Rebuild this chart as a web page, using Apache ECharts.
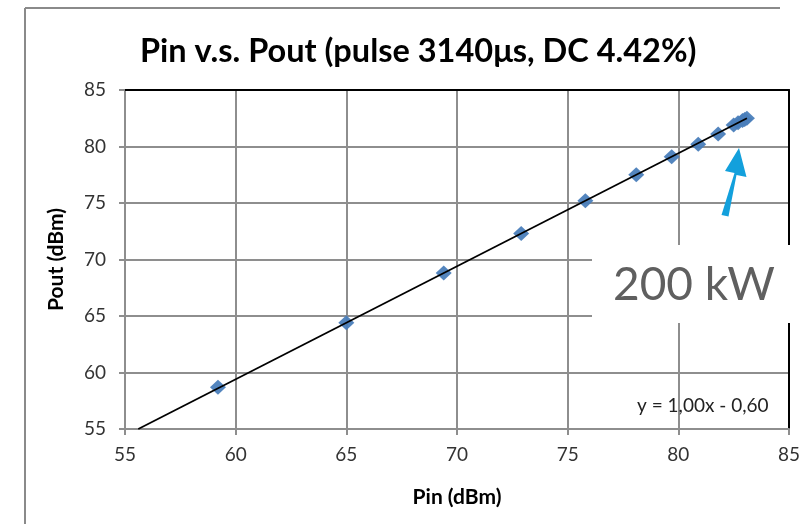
<!DOCTYPE html>
<html>
<head>
<meta charset="utf-8">
<script src="https://cdn.jsdelivr.net/npm/echarts@6/dist/echarts.min.js"></script>
<style>html,body{margin:0;padding:0;background:#fff}#c{width:803px;height:524px}</style>
</head>
<body>
<div id="c"></div>
<script>
// Data
const titleText = 'Pin v.s. Pout (pulse 3140μs, DC 4.42%)';
const xAxisName = 'Pin (dBm)';
const yAxisName = 'Pout (dBm)';
const pinValues  = [59.2, 65.0, 69.4, 72.9, 75.8, 78.1, 79.7, 80.9, 81.8, 82.5, 82.7, 82.9, 83.0, 83.1];
const poutValues = [58.7, 64.4, 68.8, 72.3, 75.2, 77.5, 79.1, 80.2, 81.1, 81.9, 82.1, 82.3, 82.4, 82.5];
const trendPin  = [55.6, 83.1];
const trendPout = [55.0, 82.5];
const equationText = 'y = 1,00x - 0,60';
const annotationText = '200 kW';
const axisMin = 55, axisMax = 85, axisStep = 5;

const FONT = 'Lato';
const chart = echarts.init(document.getElementById('c'), null, {renderer: 'canvas'});

const scatterData = pinValues.map((x, i) => [x, poutValues[i]]);
const trendData = trendPin.map((x, i) => [x, trendPout[i]]);

const gridColor = '#8e8e8e';
chart.setOption({
  animation: false,
  backgroundColor: '#fff',
  title: {
    text: titleText,
    left: 135, top: 30,
    textStyle: {fontFamily: FONT, fontWeight: 'bold', fontSize: 32.5, color: '#000'}
  },
  grid: {left: 125, top: 90, width: 666, height: 339, containLabel: false},
  xAxis: [{
    type: 'value', min: axisMin, max: axisMax, interval: axisStep,
    name: xAxisName, nameLocation: 'middle', nameGap: 58,
    nameTextStyle: {fontFamily: FONT, fontWeight: 'bold', fontSize: 21, color: '#000'},
    axisLine: {show: true, onZero: false, lineStyle: {color: gridColor, width: 2}},
    axisTick: {show: true, inside: false, length: 6, lineStyle: {color: gridColor, width: 2}},
    axisLabel: {fontFamily: FONT, fontSize: 19, color: '#333', margin: 16},
    splitLine: {show: true, lineStyle: {color: gridColor, width: 2}}
  }, {
    type: 'value', position: 'top', min: axisMin, max: axisMax, interval: axisStep,
    axisLine: {show: true, onZero: false, lineStyle: {color: '#000', width: 2}},
    axisTick: {show: false}, axisLabel: {show: false}, splitLine: {show: false}
  }],
  yAxis: [{
    type: 'value', min: axisMin, max: axisMax, interval: axisStep,
    name: yAxisName, nameLocation: 'middle', nameGap: 58, nameRotate: 90,
    nameTextStyle: {fontFamily: FONT, fontWeight: 'bold', fontSize: 21, color: '#000'},
    axisLine: {show: true, onZero: false, lineStyle: {color: gridColor, width: 2}},
    axisTick: {show: true, inside: false, length: 6, lineStyle: {color: gridColor, width: 2}},
    axisLabel: {fontFamily: FONT, fontSize: 19, color: '#333', margin: 19},
    splitLine: {show: true, lineStyle: {color: gridColor, width: 2}}
  }, {
    type: 'value', position: 'right', min: axisMin, max: axisMax, interval: axisStep,
    axisLine: {show: true, onZero: false, lineStyle: {color: '#000', width: 2}},
    axisTick: {show: false}, axisLabel: {show: false}, splitLine: {show: false}
  }],
  series: [{
    type: 'scatter', name: 'Pout',
    data: scatterData,
    symbol: 'diamond', symbolSize: [16, 15],
    itemStyle: {color: '#4a7ebb', opacity: 0.95},
    z: 3
  }, {
    type: 'line', name: 'trend',
    data: trendData,
    showSymbol: false, symbol: 'none', clip: true,
    lineStyle: {color: '#000', width: 1.8},
    z: 4
  }],
  graphic: [
    // outer frame (left and top edges)
    {type: 'line', shape: {x1: 25, y1: 8, x2: 25, y2: 524}, style: {stroke: '#8a8a8a', lineWidth: 2}, z: 1},
    {type: 'line', shape: {x1: 25, y1: 8, x2: 780, y2: 8}, style: {stroke: '#8a8a8a', lineWidth: 2}, z: 1},
    // equation
    {type: 'text', left: 637, top: 396, z: 10,
     style: {text: equationText, fontFamily: FONT, fontSize: 19, fill: '#222'}},
    // annotation box
    {type: 'rect', shape: {x: 592, y: 245, width: 211, height: 78}, style: {fill: '#fff'}, z: 20},
    {type: 'text', left: 613, top: 262, z: 21,
     style: {text: annotationText, fontFamily: FONT, fontSize: 46, fill: '#5f5f5f'}},
    // arrow
    {type: 'polygon', z: 22,
     shape: {points: [[721.5, 215], [728.5, 216.5], [736.5, 175], [746.5, 177], [739, 148], [725, 171], [734.5, 173]]},
     style: {fill: '#13a0dc'}}
  ]
});
</script>
</body>
</html>
